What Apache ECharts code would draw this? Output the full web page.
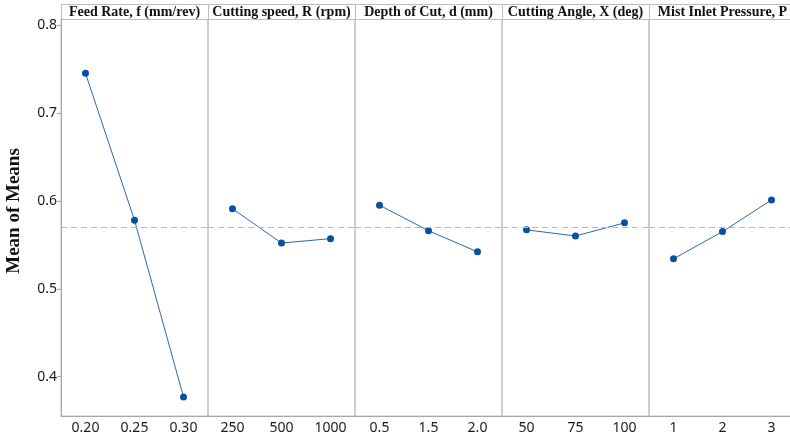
<!DOCTYPE html>
<html>
<head>
<meta charset="utf-8">
<script src="https://cdn.jsdelivr.net/npm/echarts@6/dist/echarts.min.js"></script>
<style>
  html, body { margin: 0; padding: 0; background: #fff; }
  #chart-main { width: 790px; height: 441px; }
</style>
</head>
<body>
<div id="chart-main"></div>
<script>
// factors (panel headers) and their levels
const factors = ['Feed Rate, f (mm/rev)', 'Cutting speed, R (rpm)', 'Depth of Cut, d (mm)', 'Cutting Angle, X (deg)', 'Mist Inlet Pressure, P']
const levels = [
  ['0.20', '0.25', '0.30'],
  ['250', '500', '1000'],
  ['0.5', '1.5', '2.0'],
  ['50', '75', '100'],
  ['1', '2', '3']
]
// mean of means per level
const means = [
  [0.745, 0.578, 0.377],
  [0.591, 0.552, 0.557],
  [0.595, 0.566, 0.542],
  [0.567, 0.560, 0.575],
  [0.534, 0.565, 0.601]
]
const grandMean = 0.567
const yTicks = [0.4, 0.5, 0.6, 0.7, 0.8]

const chartW = 790
const panelLeft = 61
const panelW = 147
const plotTop = 19
const plotBottom = 25
const headerTop = 4
const gray = '#bdbdbd'

const grids = [], xAxes = [], yAxes = [], series = [], graphics = []

factors.forEach((name, i) => {
  const left = panelLeft + i * panelW
  // last panel runs past the right edge of the picture
  grids.push({
    left: left, top: plotTop, width: panelW, bottom: plotBottom,
    outerBoundsMode: 'none',
    show: true, borderColor: gray, borderWidth: 1
  })
  xAxes.push({
    type: 'category', gridIndex: i, data: levels[i], boundaryGap: true,
    axisLine: { lineStyle: { color: '#a8a8a8' } },
    axisTick: { alignWithLabel: true, length: 4, lineStyle: { color: '#a8a8a8' } },
    axisLabel: { fontFamily: 'Noto Sans', fontSize: 14, color: '#1a1a1a', margin: 5 }
  })
  yAxes.push({
    type: 'value', gridIndex: i, min: 0.3553, max: 0.8068,
    splitLine: { show: false },
    axisLine: { show: i === 0, lineStyle: { color: '#a8a8a8' } },
    axisTick: { show: i === 0, length: 4, customValues: yTicks, lineStyle: { color: '#a8a8a8' } },
    axisLabel: { show: i === 0, customValues: yTicks, fontFamily: 'Noto Sans', fontSize: 14, color: '#1a1a1a', margin: 4 }
  })
  series.push({
    type: 'line', xAxisIndex: i, yAxisIndex: i, data: means[i],
    symbol: 'circle', symbolSize: 7,
    lineStyle: { color: '#2a66b5', width: 1 },
    itemStyle: { color: '#0a4fa3' },
    markLine: {
      silent: true, symbol: 'none', label: { show: false },
      lineStyle: { color: '#b8b8b8', type: [6, 4], width: 1 },
      data: [{ yAxis: grandMean }]
    },
    z: 3
  })
  // header band
  graphics.push({
    type: 'rect',
    shape: { x: left + 0.5, y: headerTop + 0.5, width: panelW, height: plotTop - headerTop },
    style: { fill: '#fff', stroke: gray, lineWidth: 1 }
  })
  graphics.push({
    type: 'text',
    x: left + panelW / 2, y: headerTop + 1,
    style: {
      text: name, fill: '#111', align: 'center', verticalAlign: 'top',
      font: 'bold 14px "Liberation Serif"'
    }
  })
})

// y axis title
graphics.push({
  type: 'text', x: 14, y: 211, rotation: Math.PI / 2,
  style: {
    text: 'Mean of Means', fill: '#111', align: 'center', verticalAlign: 'middle',
    font: 'bold 19px "Liberation Serif"'
  }
})

const myChart = echarts.init(document.getElementById('chart-main'))
myChart.setOption({
  animation: false,
  grid: grids,
  xAxis: xAxes,
  yAxis: yAxes,
  series: series,
  graphic: graphics
})
</script>
</body>
</html>
